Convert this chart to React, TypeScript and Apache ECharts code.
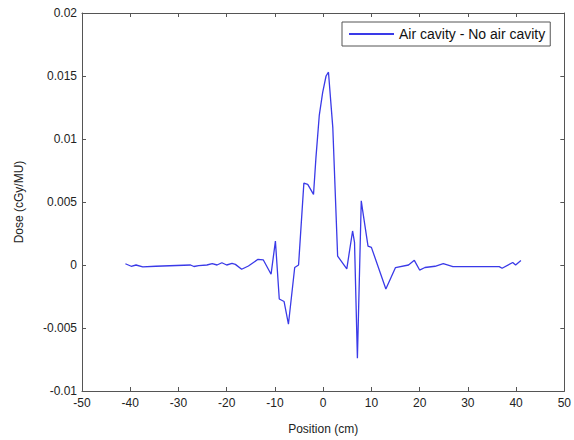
import React, { useEffect, useRef } from "react";
import * as echarts from "echarts";

const positions = [
  -41.0, -39.8, -38.8, -37.4, -34.7, -27.5, -26.8, -25.8, -24.1, -23.0,
  -22.0, -21.0, -20.0, -18.9, -18.2, -16.9, -15.5, -13.5, -12.4, -10.8,
  -9.9, -9.1, -8.1, -7.2, -5.9, -5.1, -4.0, -3.2, -2.0, -1.5,
  -0.8, -0.1, 0.6, 1.1, 2.0, 3.0, 4.9, 6.1, 6.5, 7.1,
  7.9, 8.2, 9.3, 10.0, 13.0, 15.0, 17.7, 18.9, 20.0, 21.1,
  23.2, 24.9, 26.9, 36.5, 37.1, 39.3, 39.9, 41.0,
];

const doseDiff = [
  0.0001, -0.0001, 0.0, -0.00015, -0.0001, 0.0, -0.00012, -0.00005, 0.0, 0.0001,
  0.0, 0.00018, 0.0, 0.00012, 0.00005, -0.00034, -0.00008, 0.00045, 0.0004, -0.00073,
  0.0019, -0.0027, -0.0029, -0.0047, -0.0002, 0.0, 0.0065, 0.0064, 0.0056, 0.0085,
  0.0119, 0.0137, 0.015, 0.0153, 0.0109, 0.0007, -0.0003, 0.0027, 0.0018, -0.0074,
  0.0051, 0.0043, 0.0015, 0.0014, -0.0019, -0.0002, 0.0, 0.00037, -0.0004, -0.0002,
  -0.0001, 0.0001, -0.00013, -0.00013, -0.00026, 0.0002, 0.0, 0.00035,
];

const seriesName = "Air cavity - No air cavity";
const xTitle = "Position (cm)";
const yTitle = "Dose (cGy/MU)";

export default function App() {
  const ref = useRef<HTMLDivElement>(null);
  useEffect(() => {
    if (!ref.current) return;
    const chart = echarts.init(ref.current, undefined, { renderer: "svg" });
    const font = "Liberation Sans, Arial, sans-serif";
    const axisColor = "#555";
    const labelStyle = { color: "#222", fontSize: 12, fontFamily: font };
    const fmtY = (v: number) => String(parseFloat(v.toFixed(4)));
    const data = positions.map((p, i) => [p, doseDiff[i]]);
    chart.setOption({
      animation: false,
      backgroundColor: "#fff",
      grid: { left: 82, top: 13, right: 5, bottom: 43, containLabel: false },
      legend: {
        left: 342,
        top: 22,
        padding: [5, 5, 5, 7],
        itemWidth: 45,
        itemHeight: 2,
        icon: "rect",
        borderColor: "#555",
        borderWidth: 1,
        borderRadius: 0,
        backgroundColor: "#fff",
        textStyle: { color: "#111", fontSize: 14, fontFamily: font },
        data: [{ name: seriesName }],
      },
      xAxis: [
        {
          type: "value",
          min: -50,
          max: 50,
          interval: 10,
          name: xTitle,
          nameLocation: "middle",
          nameGap: 32,
          nameTextStyle: { color: "#222", fontSize: 12, fontFamily: font },
          axisLine: { show: true, onZero: false, lineStyle: { color: axisColor, width: 1 } },
          axisTick: { show: true, inside: true, length: 4, lineStyle: { color: axisColor } },
          axisLabel: { ...labelStyle, margin: 6 },
          splitLine: { show: false },
        },
        {
          type: "value",
          position: "top",
          min: -50,
          max: 50,
          interval: 10,
          axisLine: { show: true, onZero: false, lineStyle: { color: axisColor, width: 1 } },
          axisTick: { show: true, inside: true, length: 4, lineStyle: { color: axisColor } },
          axisLabel: { show: false },
          splitLine: { show: false },
        },
      ],
      yAxis: [
        {
          type: "value",
          min: -0.01,
          max: 0.02,
          interval: 0.005,
          name: yTitle,
          nameLocation: "middle",
          nameGap: 57,
          nameRotate: 90,
          nameTextStyle: { color: "#222", fontSize: 12, fontFamily: font },
          axisLine: { show: true, onZero: false, lineStyle: { color: axisColor, width: 1 } },
          axisTick: { show: true, inside: true, length: 4, lineStyle: { color: axisColor } },
          axisLabel: { ...labelStyle, margin: 5, formatter: fmtY },
          splitLine: { show: false },
        },
        {
          type: "value",
          position: "right",
          min: -0.01,
          max: 0.02,
          interval: 0.005,
          axisLine: { show: true, onZero: false, lineStyle: { color: axisColor, width: 1 } },
          axisTick: { show: true, inside: true, length: 4, lineStyle: { color: axisColor } },
          axisLabel: { show: false },
          splitLine: { show: false },
        },
      ],
      series: [
        {
          name: seriesName,
          type: "line",
          xAxisIndex: 0,
          yAxisIndex: 0,
          data,
          symbol: "none",
          lineStyle: { color: "#3a3ae8", width: 1.3 },
          itemStyle: { color: "#3a3ae8" },
        },
      ],
    });
    return () => chart.dispose();
  }, []);
  return (
    <div
      ref={ref}
      style={{ position: "fixed", left: 0, top: 0, width: 574, height: 440 }}
    />
  );
}
